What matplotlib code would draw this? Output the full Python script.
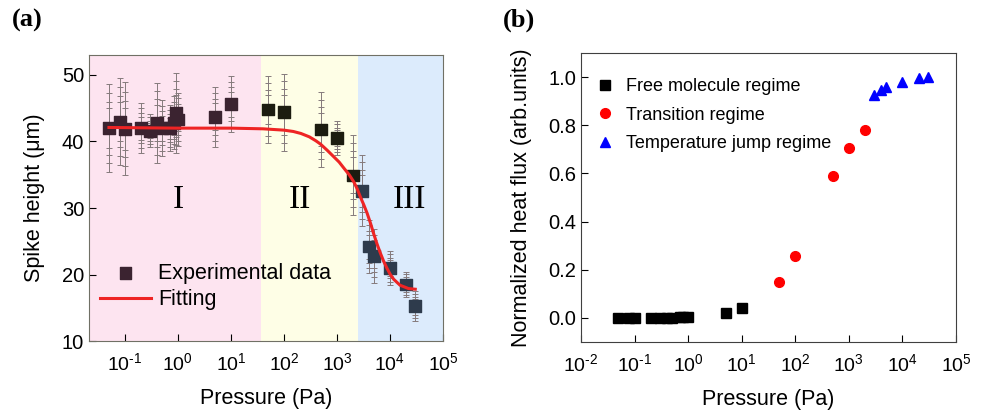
import matplotlib
matplotlib.use('Agg')
import matplotlib.pyplot as plt
import numpy as np

plt.rcParams['font.family'] = ['Liberation Sans', 'DejaVu Sans']
plt.rcParams['mathtext.default'] = 'regular'
plt.rcParams['axes.unicode_minus'] = False

# ---- panel (a): spike height vs pressure ----
p_a = [0.05, 0.08, 0.1, 0.2, 0.3, 0.4, 0.5, 0.7, 0.85, 0.93, 1.0,
       5, 10, 50, 100, 500, 1000, 2000, 3000, 4000, 5000, 10000, 20000, 30000]
h_a = [42.0, 43.0, 41.9, 42.0, 41.6, 42.8, 42.0, 42.0, 42.8, 44.3, 43.3,
       43.7, 45.6, 44.8, 44.4, 41.8, 40.5, 34.9, 32.6, 24.2, 22.8, 21.0, 18.5, 15.3]
err_a = [6.6, 6.5, 7.0, 3.8, 2.5, 6.0, 4.2, 3.5, 4.0, 6.0, 4.0,
         4.5, 4.2, 5.0, 5.8, 5.6, 2.6, 6.0, 5.3, 4.0, 4.0, 2.6, 1.9, 2.2]

# fitting curve
fit_p = [0.05, 1, 10, 40, 100, 150, 209, 300, 400, 490, 650, 871, 1100, 1349,
         1700, 2089, 2400, 2754, 3200, 3715, 4300, 4898, 5700, 6607, 7600, 8710,
         10000, 11749, 15488, 22387, 30000]
fit_h = [42.1, 42.0, 42.0, 41.9, 41.7, 41.5, 41.2, 40.7, 40.1, 39.6, 38.7, 37.7, 36.9, 36.0,
         35.0, 33.9, 32.9, 31.7, 30.5, 29.2, 27.7, 26.2, 24.6, 23.2, 22.0, 21.0,
         20.1, 19.3, 18.4, 17.9, 17.8]

# regime boundaries (Pa) and colours
bounds = [0.02, 37, 2500, 1e5]
region_colors = ['#fde4f0', '#fefee6', '#dcebfc']
marker_colors = ['#3b2330', '#1c1c10', '#2e3b4c']
region_names = ['I', 'II', 'III']
region_text_x = [1.0, 200, 23000]

# tick labels (hyphen instead of minus, like the original)
xt_a = [1e-1, 1, 1e1, 1e2, 1e3, 1e4, 1e5]
xl_a = ['10$^{\u2010' + '1}$', '10$^{0}$', '10$^{1}$', '10$^{2}$', '10$^{3}$', '10$^{4}$', '10$^{5}$']
xt_b = [1e-2] + xt_a
xl_b = ['10$^{\u2010' + '2}$'] + xl_a

# ---- panel (b): normalized heat flux ----
p_free = [0.05, 0.08, 0.1, 0.2, 0.3, 0.4, 0.5, 0.7, 0.8, 1.0, 5, 10]
q_free = [0.0, 0.0, 0.0, 0.0, 0.0, 0.0, 0.0, 0.003, 0.003, 0.005, 0.02, 0.04]
p_trans = [50, 100, 500, 1000, 2000]
q_trans = [0.15, 0.255, 0.59, 0.705, 0.78]
p_jump = [3000, 4000, 5000, 10000, 20000, 30000]
q_jump = [0.925, 0.945, 0.96, 0.98, 0.995, 1.0]

fig = plt.figure(figsize=(9.82, 4.13), dpi=100)

# ================= (a) =================
ax = fig.add_axes([0.0906, 0.174, 0.3605, 0.693])
for i in range(3):
    ax.axvspan(bounds[i], bounds[i+1], color=region_colors[i], lw=0, zorder=0)
    ax.text(region_text_x[i], 31.2, region_names[i], family='Liberation Serif',
            fontsize=24, ha='center', va='center', zorder=1)

err = np.array(err_a)
for frac in [1.0, 0.8, 0.6, 0.45]:
    ax.errorbar(p_a, h_a, yerr=err*frac, fmt='none', ecolor='#857a7c',
                elinewidth=0.7, capsize=2.5, capthick=0.7, zorder=2)

mcol = []
for p in p_a:
    for i in range(3):
        if bounds[i] <= p < bounds[i+1]:
            mcol.append(marker_colors[i])
ax.scatter(p_a, h_a, c=mcol, marker='s', s=70, zorder=4, label='Experimental data')
ax.plot(fit_p, fit_h, color='#ee2424', lw=2.2, zorder=5, label='Fitting')

ax.set_xscale('log')
ax.set_xlim(0.021, 1e5)
ax.set_ylim(10, 53)
ax.set_yticks([10, 20, 30, 40, 50])
ax.set_xticks(xt_a)
ax.set_xticklabels(xl_a)
ax.tick_params(axis='x', which='both', direction='in', labelsize=14, pad=8)
ax.tick_params(axis='y', which='both', direction='in', labelsize=14.5)
ax.tick_params(which='major', length=5)
ax.tick_params(which='minor', length=2.5)
for s in ax.spines.values():
    s.set_color('#707065')
ax.set_xlabel('Pressure (Pa)', fontsize=15.5, labelpad=10)
ax.set_ylabel('Spike height (μm)', fontsize=15.5, labelpad=12)
ax.legend(loc='lower left', bbox_to_anchor=(0.0, 0.07), frameon=False,
          fontsize=15.5, handlelength=2.4, handletextpad=0.3, labelspacing=0.25,
          borderpad=0, scatterpoints=1)

fig.text(0.012, 0.935, '(a)', family='Liberation Serif', fontweight='bold', fontsize=19)

# ================= (b) =================
bx = fig.add_axes([0.5917, 0.172, 0.3818, 0.6997])
bx.plot(p_free, q_free, 's', color='black', ms=6.5, label='Free molecule regime')
bx.plot(p_trans, q_trans, 'o', color='red', ms=7, label='Transition regime')
bx.plot(p_jump, q_jump, '^', color='blue', ms=7.5, label='Temperature jump regime')
bx.set_xscale('log')
bx.set_xlim(1e-2, 1e5)
bx.set_ylim(-0.1, 1.1)
bx.set_yticks([0.0, 0.2, 0.4, 0.6, 0.8, 1.0])
bx.set_yticklabels(['0.0', '0.2', '0.4', '0.6', '0.8', '1.0'])
bx.set_xticks(xt_b)
bx.set_xticklabels(xl_b)
bx.tick_params(axis='x', which='both', direction='in', labelsize=14, pad=8)
bx.tick_params(axis='y', which='both', direction='in', labelsize=14.5)
bx.tick_params(which='major', length=5)
bx.tick_params(which='minor', length=2.5)
for s in bx.spines.values():
    s.set_color('#404040')
bx.set_xlabel('Pressure (Pa)', fontsize=15.5, labelpad=10)
bx.set_ylabel('Normalized heat flux (arb.units)', fontsize=15.5, labelpad=12)
bx.legend(loc='upper left', bbox_to_anchor=(0.01, 0.945), frameon=False,
          fontsize=13, handlelength=1.2, handletextpad=0.6, labelspacing=0.65,
          borderpad=0, numpoints=1)

fig.text(0.512, 0.935, '(b)', family='Liberation Serif', fontweight='bold', fontsize=19)

plt.savefig('out.png', dpi=100)
